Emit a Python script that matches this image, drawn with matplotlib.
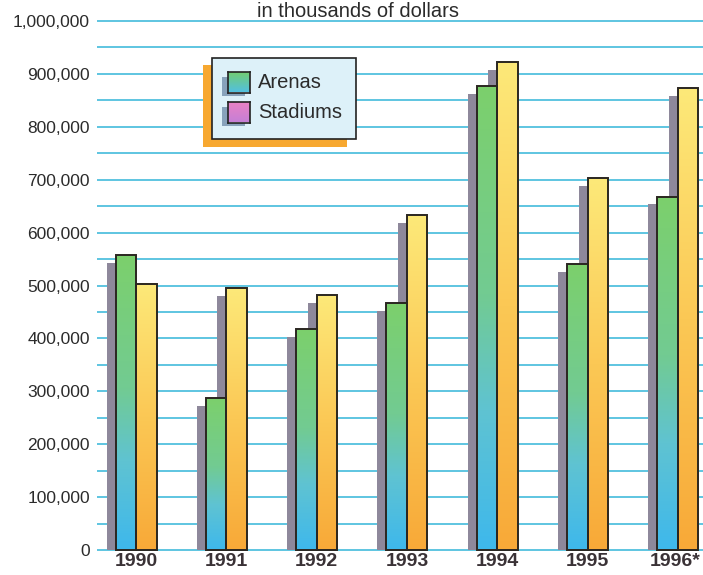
import numpy as np
import matplotlib
matplotlib.use("Agg")
import matplotlib.pyplot as plt
from matplotlib.colors import LinearSegmentedColormap
from matplotlib.patches import Rectangle
import matplotlib.transforms as mtransforms

# values in thousands of dollars
years = ["1990", "1991", "1992", "1993", "1994", "1995", "1996*"]
arenas = [557000, 287000, 417000, 466000, 877000, 540000, 668000]
stadiums = [503000, 495000, 482000, 633000, 922000, 703000, 873000]
ytick_vals = list(range(0, 1000001, 100000))
legend_names = ["Arenas", "Stadiums"]
title = "in thousands of dollars"

W, H = 703, 575

plt.rcParams['font.family'] = ['Liberation Sans', 'DejaVu Sans']

fig = plt.figure(figsize=(W / 100, H / 100), dpi=100)
fig.patch.set_facecolor("white")

# 0 at y=550px, 1,000,000 at y=21px
y0_px, y1m_px = 550, 21
ppu = (y0_px - y1m_px) / 1e6
ylo, yhi = -3000, 1025000
ax_bot = 1 - (y0_px + (-ylo) * ppu) / H
ax_top = 1 - (y0_px - yhi * ppu) / H
ax = fig.add_axes([97 / W, ax_bot, 1 - 97 / W, ax_top - ax_bot])

gstep = 90.3  # px between groups
xlo = (97 - 136) / gstep
xhi = (703 - 136) / gstep
bw = 20.5 / gstep
sx = 9 / gstep
sy = 7.5 / ppu

arena_cmap = LinearSegmentedColormap.from_list(
    "ar", [(0, "#3eb8ec"), (0.3, "#5fc3d2"), (0.55, "#72cb92"), (1, "#7cd06c")])
stad_cmap = LinearSegmentedColormap.from_list(
    "st", [(0, "#f8a938"), (0.5, "#fbc855"), (1, "#fde979")])
grad = np.linspace(0, 1, 256).reshape(-1, 1)

x = np.arange(len(years))
shadow = "#8e889b"

# shadows
ax.bar(x - bw - sx, np.array(arenas) - sy, width=bw, align="edge", color=shadow, zorder=1)
ax.bar(x - sx, np.array(stadiums) - sy, width=bw, align="edge", color=shadow, zorder=1)

for i in range(len(years)):
    ax.imshow(grad, extent=(x[i] - bw, x[i], 0, arenas[i]), origin="lower",
              cmap=arena_cmap, aspect="auto", zorder=2, interpolation="bilinear")
    ax.imshow(grad, extent=(x[i], x[i] + bw, 0, stadiums[i]), origin="lower",
              cmap=stad_cmap, aspect="auto", zorder=2, interpolation="bilinear")

ax.bar(x - bw, arenas, width=bw, align="edge", fill=False, edgecolor="#2a2620", linewidth=1.4, zorder=3)
ax.bar(x, stadiums, width=bw, align="edge", fill=False, edgecolor="#2a2620", linewidth=1.4, zorder=3)

ax.set_xlim(xlo, xhi)
ax.set_ylim(ylo, yhi)
for s in ax.spines.values():
    s.set_visible(False)

ax.set_yticks(ytick_vals)
ax.set_yticklabels(["{:,}".format(v) for v in ytick_vals], fontsize=12.5, color="#2b2b2b")
ax.set_yticks(list(range(50000, 1000000, 100000)), minor=True)
ax.grid(True, which="both", axis="y", color="#52c0de", linewidth=1.3, zorder=0)
ax.set_axisbelow(True)
ax.tick_params(axis="y", which="both", length=0, pad=5)

ax.set_xticks(x)
ax.set_xticklabels(years, fontsize=14, fontweight="bold", color="#3a3236")
ax.tick_params(axis="x", length=0, pad=1)
# keep the last label inside the right edge
last = ax.get_xticklabels()[-1]
last.set_transform(last.get_transform() + mtransforms.ScaledTranslation(-3 / 100, 0, fig.dpi_scale_trans))

fig.text(358 / W, 1 - 17 / H, title, ha="center", va="baseline", fontsize=14.5, color="#2b2b2b")

# legend, drawn by hand in pixel coordinates
def rect_px(x0, y0, x1, y1, **kw):
    r = Rectangle((x0 / W, 1 - y1 / H), (x1 - x0) / W, (y1 - y0) / H,
                  transform=fig.transFigure, **kw)
    fig.add_artist(r)
    return r

rect_px(203, 65, 347, 147, facecolor="#f7a830", edgecolor="none", zorder=2)
rect_px(212, 58, 356, 139, facecolor="#ddf1f9", edgecolor="#222222", linewidth=1.2, zorder=3)

sw_cmaps = [
    LinearSegmentedColormap.from_list("a2", ["#52c0e0", "#74cd6c"]),
    LinearSegmentedColormap.from_list("s2", ["#c57fd6", "#ec82c4"]),
]
sw_tops = [72, 102]
for k, name in enumerate(legend_names):
    t = sw_tops[k]
    rect_px(222, t + 5, 245, t + 24, facecolor="#87a2bb", edgecolor="none", zorder=4)
    sax = fig.add_axes([228 / W, 1 - (t + 20.5) / H, 22 / W, 20.5 / H])
    sax.set_zorder(5)
    sax.imshow(grad, origin="lower", cmap=sw_cmaps[k], aspect="auto")
    sax.set_xticks([])
    sax.set_yticks([])
    for s in sax.spines.values():
        s.set_color("#222222")
        s.set_linewidth(1.2)
    fig.text(258 / W, 1 - (t + 10.5) / H, name, ha="left", va="center",
             fontsize=14.5, color="#2b2b2b", zorder=6)

fig.savefig("out.png", dpi=100)
